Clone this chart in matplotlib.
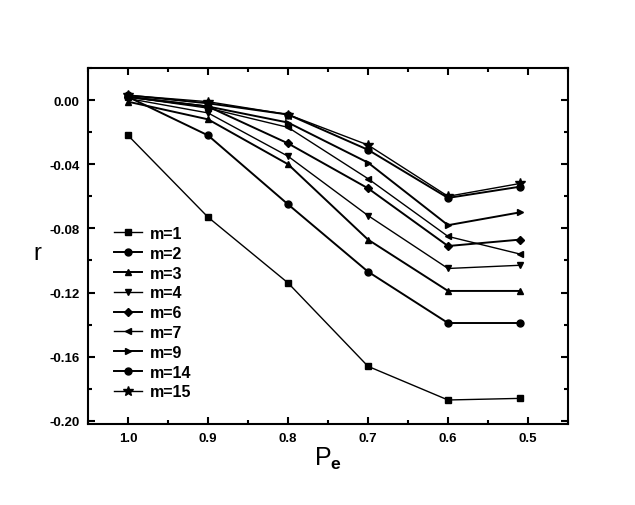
import matplotlib
matplotlib.use("Agg")
import matplotlib.pyplot as plt
from matplotlib.ticker import MultipleLocator

plt.rcParams['font.family'] = ['Liberation Sans', 'DejaVu Sans']
plt.rcParams['font.weight'] = 'bold'
plt.rcParams['mathtext.fontset'] = 'custom'
plt.rcParams['mathtext.bf'] = 'Liberation Sans:bold'

pe = [1.0, 0.9, 0.8, 0.7, 0.6, 0.51]

series = {
    "m=1": [-0.022, -0.073, -0.114, -0.166, -0.187, -0.186],
    "m=2": [0.002, -0.022, -0.065, -0.107, -0.139, -0.139],
    "m=3": [-0.001, -0.012, -0.040, -0.087, -0.119, -0.119],
    "m=4": [0.001, -0.008, -0.035, -0.072, -0.105, -0.103],
    "m=6": [0.002, -0.004, -0.027, -0.055, -0.091, -0.087],
    "m=7": [0.002, -0.005, -0.017, -0.049, -0.085, -0.096],
    "m=9": [0.002, -0.004, -0.014, -0.039, -0.078, -0.070],
    "m=14": [0.003, -0.002, -0.009, -0.031, -0.061, -0.054],
    "m=15": [0.003, -0.001, -0.009, -0.028, -0.060, -0.052],
}
markers = ["s", "o", "^", "v", "D", "<", ">", "o", "*"]
widths = [1.0, 1.4, 1.4, 1.0, 1.4, 1.0, 1.4, 1.4, 1.0]

fig = plt.figure(figsize=(6.35, 5.06), dpi=100)
ax = fig.add_axes([0.1386, 0.160, 0.7559, 0.7036])

for (name, vals), mk, lw in zip(series.items(), markers, widths):
    ms = 5
    if mk == "*":
        ms = 7
    elif mk == "D":
        ms = 4.5
    ax.plot(pe, vals, color="black", marker=mk, markersize=ms, linewidth=lw, label=name)

ax.set_xlim(1.05, 0.45)
ax.set_ylim(-0.202, 0.02)
ax.set_xticks([1.0, 0.9, 0.8, 0.7, 0.6, 0.5])
ax.set_xticklabels(["1.0", "0.9", "0.8", "0.7", "0.6", "0.5"])
ax.xaxis.set_minor_locator(MultipleLocator(0.05))
ax.set_yticks([0.0, -0.04, -0.08, -0.12, -0.16, -0.20])
ax.set_yticklabels(["0.00", "-0.04", "-0.08", "-0.12", "-0.16", "-0.20"])
ax.yaxis.set_minor_locator(MultipleLocator(0.02))

ax.tick_params(which="both", direction="in", top=True, right=True, labelsize=9.5, width=1.5)
ax.tick_params(which="major", length=5, pad=6)
ax.tick_params(which="minor", length=3)
for s in ax.spines.values():
    s.set_linewidth(1.5)

ax.set_xlabel(r"P$_\mathbf{e}$", fontsize=18, labelpad=0)
ax.set_ylabel("r", fontsize=17, rotation=0)
ax.yaxis.set_label_coords(-0.105, 0.45)

ax.legend(loc="lower left", bbox_to_anchor=(0.03, 0.038), frameon=False, fontsize=11.5,
          handlelength=1.75, handletextpad=0.55, labelspacing=0.3, borderpad=0.2)

fig.savefig("out.png", dpi=100)
